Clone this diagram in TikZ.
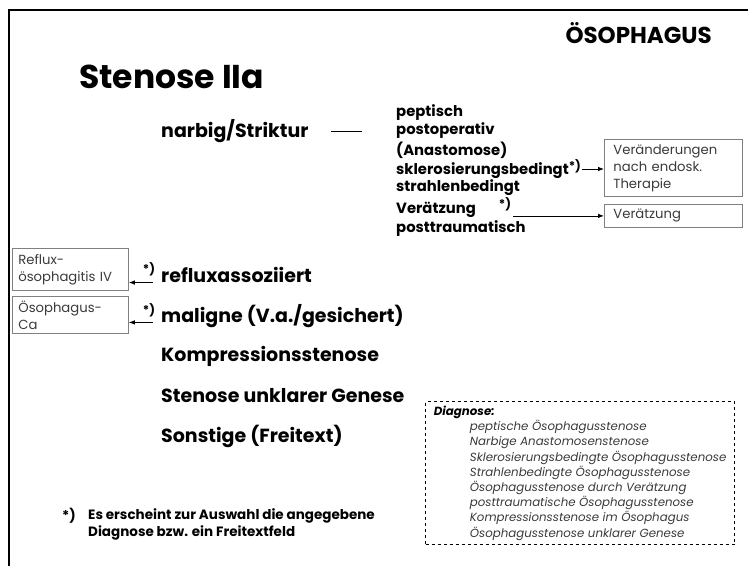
\documentclass[tikz,border=0pt]{standalone}
\usepackage{fontspec}
\setmainfont{Poppins}
\usepackage{tikz}
\usetikzlibrary{arrows.meta, positioning}
\definecolor{oesgray}{HTML}{808080}
\definecolor{oestext}{HTML}{3A3A3A}
\definecolor{oesblack}{HTML}{000000}

\begin{document}
\begin{tikzpicture}[
        x=1pt, y=-1pt,
        every node/.style={inner sep=1pt},
        pagetitle/.style={font=\fontsize{23}{26}\selectfont\bfseries, anchor=east},
        headline/.style={font=\fontsize{33}{38}\selectfont\bfseries, anchor=west},
        mainitem/.style={font=\fontsize{19}{22}\selectfont\bfseries, anchor=west},
        subitem/.style={font=\fontsize{14.8}{17}\selectfont\bfseries, anchor=west},
        starmark/.style={font=\fontsize{12}{13}\selectfont\bfseries, inner sep=0pt},
        notebox/.style={rectangle, draw=oesgray, line width=0.8pt, text=oestext,
                        font=\fontsize{13.2}{17}\selectfont, align=left, anchor=north west,
                        inner xsep=6pt, inner ysep=2pt, text width=120pt},
        linkarrow/.style={-{Latex[length=6pt, width=4.5pt]}, line width=0.8pt},
        legendbox/.style={rectangle, draw=oesblack, dashed, line width=1.3pt, text=oestext,
                          font=\fontsize{11.8}{15.2}\selectfont\itshape, align=left,
                          anchor=north west, minimum width=309pt, minimum height=143pt,
                          inner xsep=7pt, inner ysep=4pt},
        footline/.style={font=\fontsize{13.5}{17}\selectfont\bfseries, align=left, anchor=west}
    ]
        \useasboundingbox (0,0) rectangle (748,566);
        \draw[line width=2.5pt] (9,566) -- (9,10) -- (748,10);

        \node[pagetitle] (title) at (713,33) {ÖSOPHAGUS};
        \node[headline] (stenose) at (78,77) {Stenose IIa};

        \node[mainitem] (narbig) at (160,131) {narbig/Striktur};
        \coordinate (dashL) at (331,131);
        \coordinate (dashR) at (362,131);
        \draw[line width=0.8pt] (dashL) -- (dashR);

        \node[subitem] (peptisch) at (395,113) {peptisch};
        \node[subitem] (postop)   at (395,131) {postoperativ};
        \node[subitem] (anasto)   at (395,150) {(Anastomose)};
        \node[subitem] (sklero)   at (395,169)
            {sklerosierungsbedingt\raisebox{4.5pt}{\fontsize{12}{13}\selectfont *)}};
        \node[subitem] (strahlen) at (395,188) {strahlenbedingt};
        \node[subitem] (veraetz)  at (395,210) {Verätzung};
        \node[starmark] (starV)   at (505,204) {*)};
        \node[subitem] (posttrau) at (395,229) {posttraumatisch};

        \node[notebox, minimum width=138pt, minimum height=57pt] (boxThera) at (604,139)
            {Veränderungen\\nach endosk.\\Therapie};
        \node[notebox, minimum width=138pt, minimum height=23pt] (boxVer) at (604,204)
            {Verätzung};
        \draw[linkarrow] (sklero.east) -- (sklero.east -| boxThera.west);
        \draw[linkarrow] ([xshift=2pt]starV.east |- boxVer.west) -- (boxVer.west);

        \node[notebox, minimum width=116pt, minimum height=42pt, text width=104pt] (boxReflux)
            at (12,248) {Reflux-\\ösophagitis IV};
        \node[notebox, minimum width=116pt, minimum height=37pt, text width=104pt] (boxCa)
            at (12,296) {Ösophagus-\\Ca};

        \node[mainitem] (reflux)  at (160,275) {refluxassoziiert};
        \node[starmark] (starR)   at (149,269) {*)};
        \draw[linkarrow] ([xshift=-7pt]reflux.base west) -- (reflux.base west -| boxReflux.east);

        \node[mainitem] (maligne) at (160,316) {maligne (V.a./gesichert)};
        \node[starmark] (starM)   at (149,310) {*)};
        \draw[linkarrow] ([xshift=-7pt]maligne.base west) -- (maligne.base west -| boxCa.east);

        \node[mainitem] (kompr)   at (160,356) {Kompressionsstenose};
        \node[mainitem] (unklar)  at (160,396) {Stenose unklarer Genese};
        \node[mainitem] (sonst)   at (160,436) {Sonstige (Freitext)};

        \node[legendbox] (diagnose) at (425,401)
            {{\bfseries\color{oesblack}Diagnose:}\\
             \hspace*{36pt}peptische Ösophagusstenose\\
             \hspace*{36pt}Narbige Anastomosenstenose\\
             \hspace*{36pt}Sklerosierungsbedingte Ösophagusstenose\\
             \hspace*{36pt}Strahlenbedingte Ösophagusstenose\\
             \hspace*{36pt}Ösophagusstenose durch Verätzung\\
             \hspace*{36pt}posttraumatische Ösophagusstenose\\
             \hspace*{36pt}Kompressionsstenose im Ösophagus\\
             \hspace*{36pt}Ösophagusstenose unklarer Genese};

        \node[footline] (fnstar) at (61,516) {*)};
        \node[footline] (fntext) at (87,524)
            {Es erscheint zur Auswahl die angegebene\\Diagnose bzw. ein Freitextfeld};
    \end{tikzpicture}
\end{document}
